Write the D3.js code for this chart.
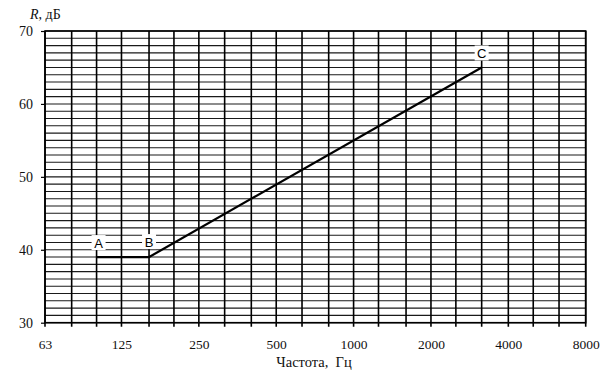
<!DOCTYPE html>
<html><head><meta charset="utf-8">
<script src="https://cdn.jsdelivr.net/npm/d3@7"></script>
<style>
html,body{margin:0;padding:0;background:#fff;}
svg{display:block;}
svg text{font-family:"Liberation Serif","Times New Roman","DejaVu Serif",serif;}
svg text.sans{font-family:"Liberation Sans",Arial,sans-serif;}
</style></head>
<body>
<svg id="chart" width="605" height="377"></svg>
<script>
const gridFreqs = [63,80,100,125,160,200,250,315,400,500,630,800,1000,1250,1600,2000,2500,3150,4000,5000,6300,8000];
const tickFreqs = [63,125,250,500,1000,2000,4000,8000];
const tickLabels = ["63","125","250","500","1000","2000","4000","8000"];
const yTicks = [30,40,50,60,70];
const curveFreq = [100,160,3150];
const curveR = [39,39,65];
const pointNames = ["A","B","C"];

const svg = d3.select("#chart");
const L = 45, R = 585.7, T = 31, B = 322.7;
const x = d3.scaleLog().base(2).domain([63,8000]).range([L,R]);
const y = d3.scaleLinear().domain([30,70]).range([B,T]);

// horizontal grid (1 dB)
const hLines = d3.range(30,71,1);
svg.append("g").selectAll("line").data(hLines).join("line")
  .attr("x1",L).attr("x2",R)
  .attr("y1",d=>y(d)).attr("y2",d=>y(d))
  .attr("stroke","#1a1a1a").attr("stroke-width",1.1);

// vertical grid
svg.append("g").selectAll("line").data(gridFreqs).join("line")
  .attr("x1",d=>x(d)).attr("x2",d=>x(d))
  .attr("y1",T).attr("y2",B+4)
  .attr("stroke","#000").attr("stroke-width",1.6);

// border
svg.append("rect").attr("x",L).attr("y",T).attr("width",R-L).attr("height",B-T)
  .attr("fill","none").attr("stroke","#000").attr("stroke-width",1.6);

// y axis ticks & labels
const yAxis = d3.axisLeft(y).tickValues(yTicks).tickSize(4).tickPadding(8);
const gy = svg.append("g").attr("transform",`translate(${L},0)`).call(yAxis);
gy.attr("font-family",null);
gy.select(".domain").remove();
gy.selectAll("line").attr("stroke","#000").attr("stroke-width",1.2);
gy.selectAll("text").attr("font-size",14).attr("fill","#111");

// x tick labels
const xAxis = d3.axisBottom(x).tickValues(tickFreqs).tickFormat((d,i)=>tickLabels[i]).tickSize(0).tickPadding(17);
const gx = svg.append("g").attr("transform",`translate(0,${B})`).call(xAxis);
gx.attr("font-family",null);
gx.select(".domain").remove();
gx.selectAll("text").attr("font-size",13.5).attr("fill","#111");

// curve
const pts = curveFreq.map((f,i)=>[x(f),y(curveR[i])]);
svg.append("path").attr("d",d3.line()(pts))
  .attr("fill","none").attr("stroke","#000").attr("stroke-width",2.2);

// point labels with white knockout
const lblOff = [[2,-14],[0,-15],[0,-14]];
pointNames.forEach((n,i)=>{
  const cx = pts[i][0]+lblOff[i][0], cy = pts[i][1]+lblOff[i][1];
  svg.append("rect").attr("x",cx-7).attr("y",cy-8).attr("width",14).attr("height",15).attr("fill","#fff");
  svg.append("text").attr("class","sans").attr("x",cx).attr("y",cy+5).attr("text-anchor","middle")
    .attr("font-size",13).attr("fill","#000").text(n);
});

// axis titles
const yt = svg.append("text").attr("x",30).attr("y",19).attr("font-size",14).attr("fill","#111");
yt.append("tspan").attr("font-style","italic").text("R");
yt.append("tspan").text(", дБ");
svg.append("text").attr("x",314).attr("y",367).attr("text-anchor","middle")
  .attr("font-size",14.5).attr("fill","#111").attr("xml:space","preserve").text("Частота,  Гц");
</script>
</body></html>
